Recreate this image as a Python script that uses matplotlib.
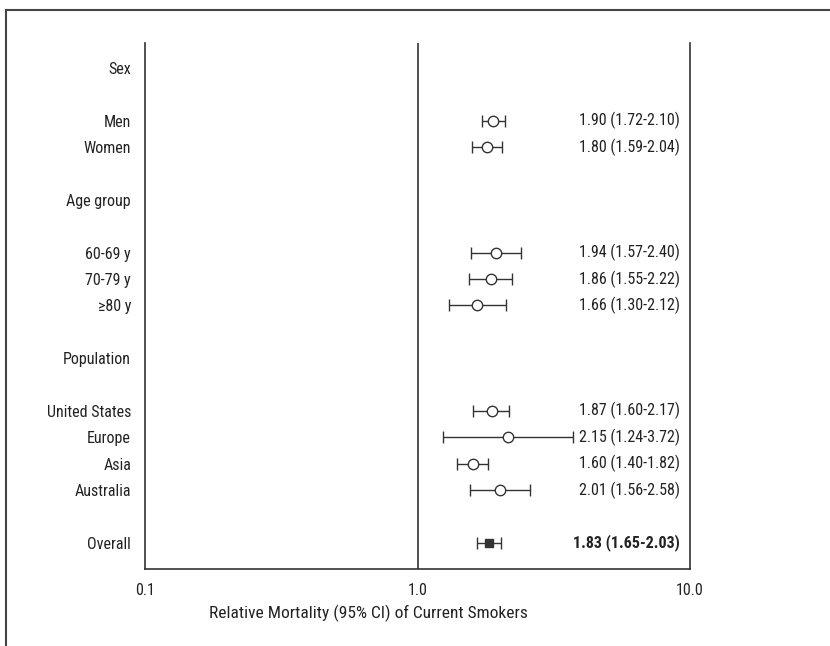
import matplotlib

matplotlib.use("Agg")
import matplotlib.pyplot as plt  # noqa: E402
from matplotlib.lines import Line2D  # noqa: E402
from matplotlib import font_manager  # noqa: E402

names = {f.name for f in font_manager.fontManager.ttflist}
narrow = [n for n in ("Roboto Condensed", "Liberation Sans Narrow", "Roboto") if n in names]
plt.rcParams["font.family"] = narrow + ["DejaVu Sans"]

# rows top to bottom; None marks a blank spacer row
row_labels = ["Sex", None, "Men", "Women", None, "Age group", None,
              "60-69 y", "70-79 y", "\u226580 y", None, "Population", None,
              "United States", "Europe", "Asia", "Australia", None, "Overall"]

est_labels = ["Men", "Women", "60-69 y", "70-79 y", "\u226580 y",
              "United States", "Europe", "Asia", "Australia", "Overall"]
est = [1.90, 1.80, 1.94, 1.86, 1.66, 1.87, 2.15, 1.60, 2.01, 1.83]
lo = [1.72, 1.59, 1.57, 1.55, 1.30, 1.60, 1.24, 1.40, 1.56, 1.65]
hi = [2.10, 2.04, 2.40, 2.22, 2.12, 2.17, 3.72, 1.82, 2.58, 2.03]

xticks = [0.1, 1.0, 10.0]
xtick_labels = ["0.1", "1.0", "10.0"]

ink = "#333333"
txt = "#222222"
fs = 11.5

fig = plt.figure(figsize=(8.3, 6.46), dpi=100)
ax = fig.add_axes([145 / 830, 1 - 569 / 646, 545 / 830, 526 / 646])
ax.set_xscale("log")
ax.set_xlim(0.1, 10)
ax.set_ylim(len(row_labels), -0.95)

row_of = {lab: i for i, lab in enumerate(row_labels) if lab}

for lab, e, l, h in zip(est_labels, est, lo, hi):
    y = row_of[lab]
    overall = lab == "Overall"
    ax.errorbar(e, y, xerr=[[e - l], [h - e]], fmt="s" if overall else "o",
                ms=6 if overall else 7.5, mfc=ink if overall else "white",
                mec=ink, mew=1.0, ecolor=ink, elinewidth=1.0,
                capsize=4, capthick=1.0, zorder=3)
    ax.text(0.982, y, f"{e:.2f} ({l:.2f}-{h:.2f})", transform=ax.get_yaxis_transform(),
            ha="right", va="center", fontsize=fs, color=txt,
            fontweight="bold" if overall else "normal")

ax.axvline(1.0, color=ink, lw=1.2, zorder=1)

ax.set_yticks([i for i, lab in enumerate(row_labels) if lab])
ax.set_yticklabels([lab for lab in row_labels if lab], fontsize=fs, color=txt)
ax.set_xticks(xticks)
ax.set_xticklabels(xtick_labels, fontsize=fs, color=txt)
ax.minorticks_off()
ax.tick_params(axis="both", length=0)
ax.tick_params(axis="x", pad=10)
ax.tick_params(axis="y", pad=10)
ax.set_xlabel("Relative Mortality (95% CI) of Current Smokers", fontsize=12.5,
              color=txt, va="center")
ax.xaxis.set_label_coords(223 / 545, -44 / 526)

ax.spines["top"].set_visible(False)
for s in ("left", "right", "bottom"):
    ax.spines[s].set_color(ink)
    ax.spines[s].set_linewidth(1.2)

# outer frame: top and left edges only
fig.add_artist(Line2D([6 / 830, 1], [1 - 10 / 646] * 2, color="#444444", lw=1.5,
                      transform=fig.transFigure))
fig.add_artist(Line2D([6 / 830] * 2, [0, 1 - 10 / 646], color="#444444", lw=1.5,
                      transform=fig.transFigure))

fig.savefig("out.png", dpi=100)
